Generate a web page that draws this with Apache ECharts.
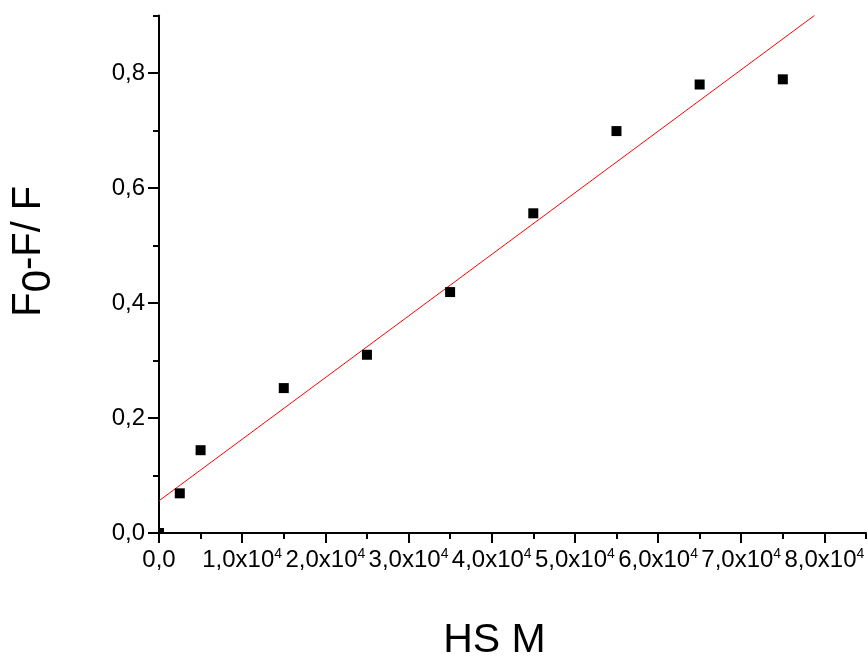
<!DOCTYPE html>
<html>
<head>
<meta charset="utf-8">
<script src="https://cdn.jsdelivr.net/npm/echarts@6/dist/echarts.min.js"></script>
<style>
html,body{margin:0;padding:0;background:#fff;}
#chart{width:868px;height:659px;}
</style>
</head>
<body>
<div id="chart"></div>
<script>
// Data
const hsmConc = [0, 2500, 5000, 15000, 25000, 35000, 45000, 55000, 65000, 75000];
const quench  = [0, 0.069, 0.144, 0.252, 0.310, 0.419, 0.556, 0.699, 0.780, 0.789];
// Linear fit line endpoints
const fitX = [0, 78800];
const fitY = [0.056, 0.9];
// Ticks
const xTickValues = [0, 10000, 20000, 30000, 40000, 50000, 60000, 70000, 80000];
const xTickLabels = ['0,0', '1,0x10', '2,0x10', '3,0x10', '4,0x10', '5,0x10', '6,0x10', '7,0x10', '8,0x10'];
const xMinorTicks = [5000, 15000, 25000, 35000, 45000, 55000, 65000, 75000, 85000];
const yTickValues = [0, 0.2, 0.4, 0.6, 0.8];
const yTickLabels = ['0,0', '0,2', '0,4', '0,6', '0,8'];
const yMinorTicks = [0.1, 0.3, 0.5, 0.7, 0.9];
const xTitle = 'HS M';

const FONT = '"Liberation Sans", Arial, Helvetica, sans-serif';
const chart = echarts.init(document.getElementById('chart'));

function xLabel(v) {
  const i = xTickValues.findIndex(t => Math.abs(t - v) < 1e-6);
  if (i < 0) return '';
  if (i === 0) return '{a|' + xTickLabels[i] + '}';
  return '{a|' + xTickLabels[i] + '}{s|4}';
}
function yLabel(v) {
  const i = yTickValues.findIndex(t => Math.abs(t - v) < 1e-6);
  return i < 0 ? '' : yTickLabels[i];
}

const SYM = 10;
function renderPoint(params, api) {
  const p = api.coord([api.value(0), api.value(1)]);
  const cs = params.coordSys;
  const rect = echarts.graphic.clipRectByRect(
    {x: p[0] - SYM / 2, y: p[1] - SYM / 2, width: SYM, height: SYM},
    {x: cs.x, y: cs.y, width: cs.width, height: cs.height}
  );
  if (!rect) return null;
  return {type: 'rect', shape: rect, style: {fill: '#000'}};
}

const option = {
  backgroundColor: '#fff',
  animation: false,
  grid: {left: 159, right: 2, top: 15.5, bottom: 126, containLabel: false, outerBoundsMode: 'none'},
  xAxis: [
    {
      type: 'value', min: 0, max: 85000, position: 'bottom',
      splitLine: {show: false},
      axisLine: {show: true, onZero: false, lineStyle: {color: '#000', width: 2}},
      axisTick: {show: true, inside: false, length: 6, customValues: xMinorTicks, lineStyle: {color: '#000', width: 2}},
      axisLabel: {
        show: true, customValues: xTickValues, margin: 14, formatter: xLabel,
        rich: {
          a: {fontFamily: FONT, fontSize: 24, color: '#000', lineHeight: 26, verticalAlign: 'middle'},
          s: {fontFamily: FONT, fontSize: 14, color: '#000', lineHeight: 26, verticalAlign: 'top'}
        }
      },
      name: xTitle, nameLocation: 'middle', nameGap: 87,
      nameTextStyle: {fontFamily: FONT, fontSize: 41, color: '#000', padding: [0, 36, 0, 0]}
    },
    {
      type: 'value', min: 0, max: 85000, position: 'bottom',
      splitLine: {show: false},
      axisLine: {show: false, onZero: false},
      axisTick: {show: true, inside: false, length: 10, customValues: xTickValues, lineStyle: {color: '#000', width: 2}},
      axisLabel: {show: false}
    }
  ],
  yAxis: [
    {
      type: 'value', min: 0, max: 0.9, position: 'left',
      splitLine: {show: false},
      axisLine: {show: true, onZero: false, lineStyle: {color: '#000', width: 2}},
      axisTick: {show: true, inside: false, length: 6, customValues: yMinorTicks, lineStyle: {color: '#000', width: 2}},
      axisLabel: {show: true, customValues: yTickValues, margin: 14, formatter: yLabel,
        fontFamily: FONT, fontSize: 24, color: '#000'},
      name: '{a|F}{b|0}{a|-F/ F}', nameLocation: 'middle', nameGap: 100, nameRotate: 90,
      nameTextStyle: {
        fontFamily: FONT, fontSize: 40, color: '#000', padding: [0, 0, 0, 46],
        rich: {
          a: {fontFamily: FONT, fontSize: 40, color: '#000', lineHeight: 60, verticalAlign: 'middle'},
          b: {fontFamily: FONT, fontSize: 40, color: '#000', lineHeight: 60, verticalAlign: 'bottom'}
        }
      }
    },
    {
      type: 'value', min: 0, max: 0.9, position: 'left',
      splitLine: {show: false},
      axisLine: {show: false, onZero: false},
      axisTick: {show: true, inside: false, length: 11, customValues: yTickValues, lineStyle: {color: '#000', width: 2}},
      axisLabel: {show: false}
    }
  ],
  series: [
    {
      type: 'line', xAxisIndex: 0, yAxisIndex: 0,
      data: fitX.map((x, i) => [x, fitY[i]]),
      showSymbol: false, symbol: 'none', clip: true,
      lineStyle: {color: '#ff0000', width: 1}, z: 2
    },
    {
      type: 'custom', xAxisIndex: 0, yAxisIndex: 0,
      data: hsmConc.map((x, i) => [x, quench[i]]),
      renderItem: renderPoint, z: 3
    }
  ]
};
chart.setOption(option);
</script>
</body>
</html>
